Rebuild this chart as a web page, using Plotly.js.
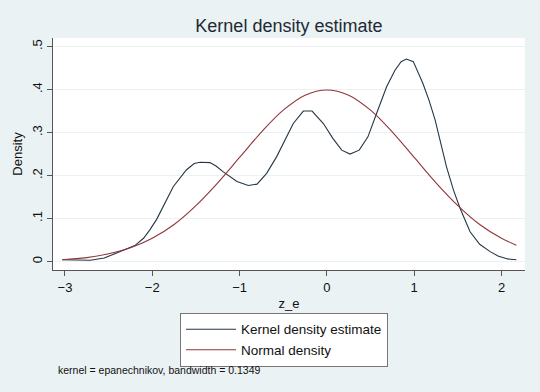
<!DOCTYPE html>
<html>
<head>
<meta charset="utf-8">
<script src="https://cdn.plot.ly/plotly-3.0.1.min.js"></script>
<style>html,body{margin:0;padding:0;background:#eaf2f3;}#chart{width:540px;height:392px;}</style>
</head>
<body>
<div id="chart"></div>
<script>
// Kernel density estimate
const kdeX = [-3.03,-2.85,-2.71,-2.55,-2.41,-2.3,-2.2,-2.1,-2.03,-1.95,-1.875,-1.76,-1.61,-1.52,-1.45,-1.34,-1.27,-1.19,-1.03,-0.90,-0.80,-0.69,-0.575,-0.52,-0.45,-0.385,-0.27,-0.17,-0.04,0.07,0.17,0.265,0.37,0.47,0.57,0.685,0.78,0.85,0.91,0.99,1.1,1.17,1.24,1.37,1.45,1.525,1.64,1.75,1.87,1.96,2.07,2.17];
const kdeY = [0.004,0.003,0.003,0.008,0.019,0.028,0.037,0.054,0.073,0.098,0.127,0.174,0.213,0.228,0.231,0.230,0.222,0.209,0.186,0.177,0.180,0.205,0.244,0.267,0.295,0.321,0.350,0.350,0.321,0.286,0.259,0.250,0.259,0.290,0.345,0.407,0.445,0.465,0.471,0.465,0.414,0.375,0.329,0.220,0.166,0.124,0.069,0.040,0.023,0.013,0.006,0.004];
// Normal density overlay
const normX = [-3.03,-2.75,-2.5,-2.25,-2,-1.75,-1.5,-1.25,-1,-0.75,-0.5,-0.25,0,0.25,0.5,0.75,1,1.25,1.5,1.75,2,2.17];
const normY = [0.004,0.009,0.018,0.032,0.054,0.086,0.130,0.183,0.242,0.301,0.352,0.387,0.399,0.387,0.352,0.301,0.242,0.183,0.130,0.086,0.054,0.038];
const xTicks = [-3,-2,-1,0,1,2];
const yTicks = [0,0.1,0.2,0.3,0.4,0.5];
const yTickText = ["0",".1",".2",".3",".4",".5"];
const seriesNames = ["Kernel density estimate","Normal density"];
const noteText = "kernel = epanechnikov, bandwidth = 0.1349";

const font = "Liberation Sans, Arial, sans-serif";
const traces = [
  {x: kdeX, y: kdeY, type: "scatter", mode: "lines", name: seriesNames[0],
   line: {color: "#243645", width: 1.1}},
  {x: normX, y: normY, type: "scatter", mode: "lines", name: seriesNames[1],
   line: {color: "#90353b", width: 1.1, shape: "spline", smoothing: 1}}
];
const layout = {
  width: 540, height: 392,
  paper_bgcolor: "#eaf2f3", plot_bgcolor: "#ffffff",
  margin: {l: 53, r: 15, t: 38, b: 122},
  font: {family: font, color: "#111", size: 13},
  title: {text: "Kernel density estimate", font: {family: font, size: 18, color: "#1e2a33"},
          x: 0.535, xanchor: "center", y: 0.935, yanchor: "middle"},
  xaxis: {range: [-3.137, 2.269], tickvals: xTicks, ticks: "outside", ticklen: 5, tickcolor: "#555",
          showline: true, linecolor: "#555", linewidth: 1, showgrid: false, zeroline: false,
          tickfont: {size: 13}, title: {text: "z_e", font: {size: 13}, standoff: 5}},
  yaxis: {range: [-0.0198, 0.52], tickvals: yTicks, ticktext: yTickText, tickangle: -90,
          ticks: "outside", ticklen: 5, tickcolor: "#555",
          showline: true, linecolor: "#555", linewidth: 1, showgrid: true, gridcolor: "#eaf2f3",
          zeroline: false, tickfont: {size: 13}, title: {text: "Density", font: {size: 13}, standoff: 4}},
  showlegend: true,
  legend: {x: 0.269, xanchor: "left", y: -0.185, yanchor: "top", bgcolor: "#ffffff",
           bordercolor: "#777", borderwidth: 1, font: {size: 13.5}, itemwidth: 50,
           tracegroupgap: 0},
  annotations: [{text: noteText, xref: "paper", yref: "paper", x: 0.006, xanchor: "left",
                 y: -0.43, yanchor: "middle", showarrow: false, font: {size: 10.5, color: "#111"}}]
};
Plotly.newPlot("chart", traces, layout, {displayModeBar: false, staticPlot: true});
</script>
</body>
</html>
